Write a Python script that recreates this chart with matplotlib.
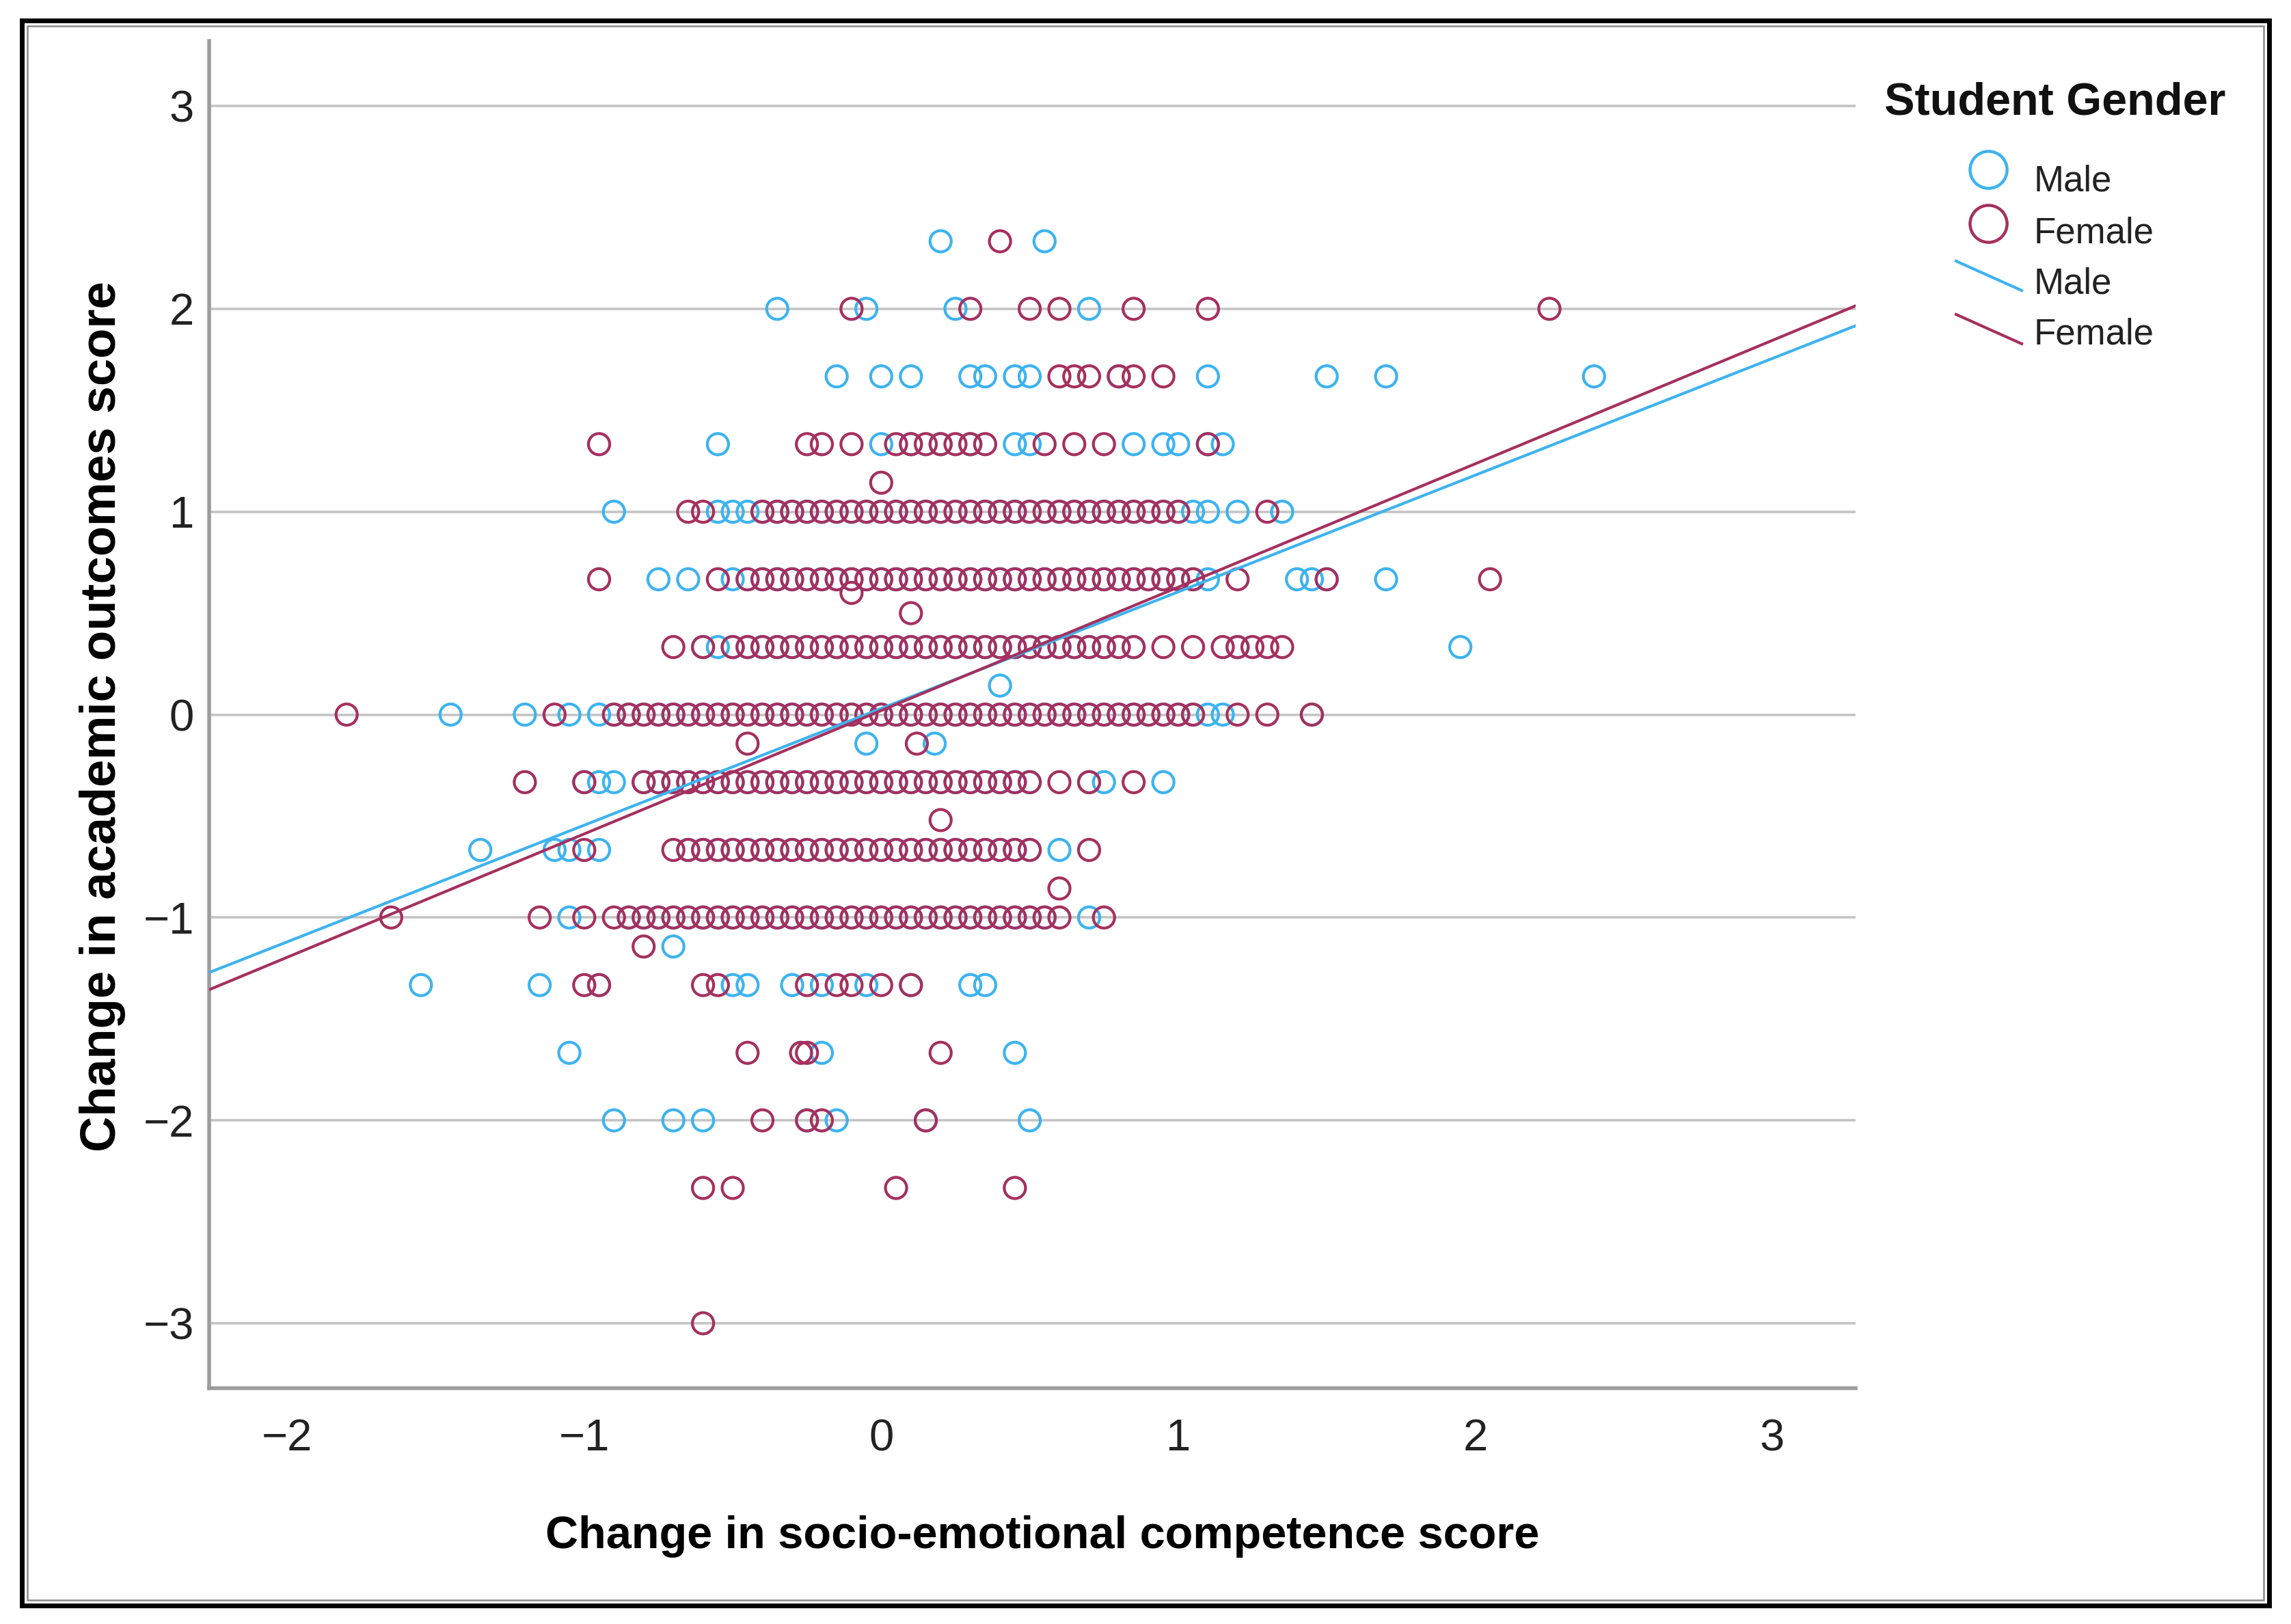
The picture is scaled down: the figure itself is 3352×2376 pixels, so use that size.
import matplotlib
matplotlib.use("Agg")
import matplotlib.pyplot as plt
from matplotlib.lines import Line2D
from matplotlib.patches import Rectangle
import numpy as np

plt.rcParams['font.family'] = ['Liberation Sans', 'DejaVu Sans']

# ---------------- data ----------------
# x = change in socio-emotional competence, grouped by y level (change in academic outcomes)
male_y233 = [0.2, 0.55]
fem_y233 = [0.4]

male_y200 = [-0.35, -0.05, 0.25, 0.7]
fem_y200 = [-0.1, 0.3, 0.5, 0.6, 0.85, 1.1, 2.25]

male_y167 = [-0.15, 0.0, 0.1, 0.3, 0.35, 0.45, 0.5, 0.8, 1.1, 1.5, 1.7, 2.4]
fem_y167 = [0.6, 0.65, 0.7, 0.8, 0.85, 0.95]

male_y133 = [-0.55, 0.0, 0.1, 0.2, 0.3, 0.45, 0.5, 0.85, 0.95, 1.0, 1.1, 1.15]
fem_y133 = [-0.95, -0.25, -0.2, -0.1, 0.05, 0.1, 0.15, 0.2, 0.25, 0.3, 0.35,
            0.55, 0.65, 0.75, 1.1]

fem_y114 = [0.0]

male_y100 = [-0.9, -0.55, -0.5, -0.45, -0.4, -0.35, -0.3, -0.25, -0.2, -0.15, -0.1,
             -0.05, 0.0, 0.05, 0.1, 0.15, 0.2, 0.25, 0.3, 0.35, 0.4, 0.45, 0.5, 0.55,
             0.6, 0.65, 0.7, 0.75, 0.8, 0.85, 0.9, 0.95, 1.0, 1.05, 1.1, 1.2, 1.35]
fem_y100 = [-0.65, -0.6, -0.4, -0.35, -0.3, -0.25, -0.2, -0.15, -0.1, -0.05, 0.0,
            0.05, 0.1, 0.15, 0.2, 0.25, 0.3, 0.35, 0.4, 0.45, 0.5, 0.55, 0.6, 0.65,
            0.7, 0.75, 0.8, 0.85, 0.9, 0.95, 1.0, 1.3]

male_y067 = [-0.75, -0.65, -0.5, -0.45, -0.4, -0.35, -0.3, -0.25, -0.2, -0.15, -0.1,
             -0.05, 0.0, 0.05, 0.1, 0.15, 0.2, 0.25, 0.3, 0.35, 0.4, 0.45, 0.5, 0.55,
             0.6, 0.65, 0.7, 0.75, 0.8, 0.85, 0.9, 0.95, 1.0, 1.05, 1.1, 1.4, 1.45,
             1.5, 1.7]
fem_y067 = [-0.95, -0.55, -0.45, -0.4, -0.35, -0.3, -0.25, -0.2, -0.15, -0.1, -0.05,
            0.0, 0.05, 0.1, 0.15, 0.2, 0.25, 0.3, 0.35, 0.4, 0.45, 0.5, 0.55, 0.6,
            0.65, 0.7, 0.75, 0.8, 0.85, 0.9, 0.95, 1.0, 1.05, 1.2, 1.5, 2.05]

fem_y060 = [-0.1]
fem_y050 = [0.1]

male_y033 = [-0.6, -0.55, -0.5, -0.45, -0.4, -0.35, -0.3, -0.25, -0.2, -0.15, -0.1,
             -0.05, 0.0, 0.05, 0.1, 0.15, 0.2, 0.25, 0.3, 0.35, 0.4, 0.45, 0.5, 0.55,
             0.6, 0.65, 0.7, 0.75, 0.85, 1.2, 1.95]
fem_y033 = [-0.7, -0.6, -0.5, -0.45, -0.4, -0.35, -0.3, -0.25, -0.2, -0.15, -0.1,
            -0.05, 0.0, 0.05, 0.1, 0.15, 0.2, 0.25, 0.3, 0.35, 0.4, 0.45, 0.5, 0.55,
            0.6, 0.65, 0.7, 0.75, 0.8, 0.85, 0.95, 1.05, 1.15, 1.2, 1.25, 1.3, 1.35]

male_y014 = [0.4]

male_y000 = [-1.45, -1.2, -1.05, -0.95, -0.9, -0.85, -0.8, -0.75, -0.7, -0.65, -0.6,
             -0.55, -0.5, -0.45, -0.4, -0.35, -0.3, -0.25, -0.2, -0.15, -0.1, -0.05,
             0.0, 0.05, 0.1, 0.15, 0.2, 0.25, 0.3, 0.35, 0.4, 0.45, 0.5, 0.55, 0.6,
             0.65, 0.7, 0.75, 0.8, 0.85, 0.9, 0.95, 1.0, 1.05, 1.1, 1.15, 1.45]
fem_y000 = [-1.8, -1.1, -0.9, -0.85, -0.8, -0.75, -0.7, -0.65, -0.6, -0.55, -0.5,
            -0.45, -0.4, -0.35, -0.3, -0.25, -0.2, -0.15, -0.1, -0.05, 0.0, 0.05,
            0.1, 0.15, 0.2, 0.25, 0.3, 0.35, 0.4, 0.45, 0.5, 0.55, 0.6, 0.65, 0.7,
            0.75, 0.8, 0.85, 0.9, 0.95, 1.0, 1.05, 1.2, 1.3, 1.45]

male_ym014 = [-0.05, 0.18]
fem_ym014 = [-0.45, 0.12]

male_ym033 = [-1.0, -0.95, -0.9, -0.8, -0.75, -0.7, -0.65, -0.6, -0.55, -0.5, -0.45,
              -0.4, -0.35, -0.3, -0.25, -0.2, -0.15, -0.1, -0.05, 0.0, 0.05, 0.1,
              0.15, 0.2, 0.25, 0.3, 0.35, 0.4, 0.45, 0.5, 0.7, 0.75, 0.95]
fem_ym033 = [-1.2, -1.0, -0.8, -0.75, -0.7, -0.65, -0.6, -0.55, -0.5, -0.45, -0.4,
             -0.35, -0.3, -0.25, -0.2, -0.15, -0.1, -0.05, 0.0, 0.05, 0.1, 0.15, 0.2,
             0.25, 0.3, 0.35, 0.4, 0.45, 0.5, 0.6, 0.7, 0.85]

fem_ym052 = [0.2]

male_ym067 = [-1.35, -1.1, -1.05, -0.95, -0.65, -0.6, -0.55, -0.5, -0.45, -0.4,
              -0.35, -0.3, -0.25, -0.2, -0.15, -0.1, -0.05, 0.0, 0.05, 0.1, 0.15,
              0.2, 0.25, 0.3, 0.35, 0.4, 0.45, 0.5, 0.6]
fem_ym067 = [-1.0, -0.7, -0.65, -0.6, -0.55, -0.5, -0.45, -0.4, -0.35, -0.3, -0.25,
             -0.2, -0.15, -0.1, -0.05, 0.0, 0.05, 0.1, 0.15, 0.2, 0.25, 0.3, 0.35,
             0.4, 0.45, 0.5, 0.7]

fem_ym086 = [0.6]

male_ym100 = [-1.05, -0.85, -0.8, -0.75, -0.7, -0.65, -0.6, -0.55, -0.5, -0.45, -0.4,
              -0.35, -0.3, -0.25, -0.2, -0.15, -0.1, -0.05, 0.0, 0.05, 0.1, 0.15,
              0.2, 0.25, 0.3, 0.35, 0.4, 0.45, 0.5, 0.55, 0.7]
fem_ym100 = [-1.65, -1.15, -1.0, -0.9, -0.85, -0.8, -0.75, -0.7, -0.65, -0.6, -0.55,
             -0.5, -0.45, -0.4, -0.35, -0.3, -0.25, -0.2, -0.15, -0.1, -0.05, 0.0,
             0.05, 0.1, 0.15, 0.2, 0.25, 0.3, 0.35, 0.4, 0.45, 0.5, 0.55, 0.6, 0.75]

male_ym114 = [-0.7]
fem_ym114 = [-0.8]

male_ym133 = [-1.55, -1.15, -0.95, -0.5, -0.45, -0.3, -0.2, -0.05, 0.1, 0.3, 0.35]
fem_ym133 = [-1.0, -0.95, -0.6, -0.55, -0.25, -0.15, -0.1, 0.0, 0.1]

male_ym167 = [-1.05, -0.2, 0.45]
fem_ym167 = [-0.45, -0.27, -0.25, 0.2]

male_ym200 = [-0.9, -0.7, -0.6, -0.25, -0.15, 0.15, 0.5]
fem_ym200 = [-0.4, -0.25, -0.2, 0.15]

fem_ym233 = [-0.6, -0.5, 0.05, 0.45]
fem_ym300 = [-0.6]

male_levels = [2.333, 2.0, 1.667, 1.333, 1.0, 0.667, 0.333, 0.143, 0.0, -0.143,
               -0.333, -0.667, -1.0, -1.143, -1.333, -1.667, -2.0]
male_groups = [male_y233, male_y200, male_y167, male_y133, male_y100, male_y067,
               male_y033, male_y014, male_y000, male_ym014, male_ym033, male_ym067,
               male_ym100, male_ym114, male_ym133, male_ym167, male_ym200]
fem_levels = [2.333, 2.0, 1.667, 1.333, 1.143, 1.0, 0.667, 0.6, 0.5, 0.333, 0.0,
              -0.143, -0.333, -0.52, -0.667, -0.857, -1.0, -1.143, -1.333, -1.667,
              -2.0, -2.333, -3.0]
fem_groups = [fem_y233, fem_y200, fem_y167, fem_y133, fem_y114, fem_y100, fem_y067,
              fem_y060, fem_y050, fem_y033, fem_y000, fem_ym014, fem_ym033, fem_ym052,
              fem_ym067, fem_ym086, fem_ym100, fem_ym114, fem_ym133, fem_ym167,
              fem_ym200, fem_ym233, fem_ym300]

# fit lines (slope, intercept)
male_fit = (0.575, 0.03)
fem_fit = (0.608, 0.02)

x_ticks = [-2, -1, 0, 1, 2, 3]
y_ticks = [-3, -2, -1, 0, 1, 2, 3]

series_names = ["Male", "Female"]
c_male = "#3DB3EF"
c_fem = "#A5305F"

# ---------------- figure ----------------
W, H = 3352, 2376
fig = plt.figure(figsize=(W / 100, H / 100), dpi=100)
fig.patch.set_facecolor("white")

def fx(px):
    return px / W

def fy(py):
    return 1 - py / H

ax_l, ax_r, ax_t, ax_b = 306, 2715, 60, 2031
ax = fig.add_axes([fx(ax_l), fy(ax_b), fx(ax_r) - fx(ax_l), fy(ax_t) - fy(ax_b)])
ax.set_xlim(-2.263, 3.281)
ax.set_ylim(-3.32, 3.32)

ax.set_yticks(y_ticks)
ax.set_xticks(x_ticks)
ax.yaxis.grid(True, color="#C4C4C4", linewidth=2.6, zorder=0)
ax.xaxis.grid(False)
ax.set_axisbelow(True)

for s in ["top", "right"]:
    ax.spines[s].set_visible(False)
for s in ["left", "bottom"]:
    ax.spines[s].set_color("#9C9C9C")
    ax.spines[s].set_linewidth(4)

ax.tick_params(axis="both", length=0, labelsize=47, labelcolor="#222222")
ax.tick_params(axis="y", pad=16)
ax.tick_params(axis="x", pad=32)

mx = np.concatenate([np.asarray(g, float) for g in male_groups])
my = np.concatenate([np.full(len(g), lv) for g, lv in zip(male_groups, male_levels)])
fxv = np.concatenate([np.asarray(g, float) for g in fem_groups])
fyv = np.concatenate([np.full(len(g), lv) for g, lv in zip(fem_groups, fem_levels)])

ax.scatter(mx, my, s=500, facecolors="none", edgecolors=c_male, linewidths=3.0, zorder=3)
ax.scatter(fxv, fyv, s=500, facecolors="none", edgecolors=c_fem, linewidths=3.0, zorder=3)

ax.axline((0, male_fit[1]), slope=male_fit[0], color=c_male, linewidth=3.0, zorder=4)
ax.axline((0, fem_fit[1]), slope=fem_fit[0], color=c_fem, linewidth=3.0, zorder=4)

ax.set_xlabel("Change in socio-emotional competence score", fontsize=48,
              fontweight="bold", va="baseline")
ax.xaxis.set_label_coords(0.506, -0.1187)
ax.set_ylabel("Change in academic outcomes score", fontsize=52,
              fontweight="bold", va="center")
ax.yaxis.set_label_coords(-0.0648, 0.4987)

# ---------------- legend (manual, SPSS style) ----------------
fig.text(fx(2757), fy(167), "Student Gender", fontsize=48, fontweight="bold",
         ha="left", va="baseline", color="#111111")
fig.add_artist(Line2D([fx(2909)], [fy(248)], marker="o", markersize=39,
                      markerfacecolor="none", markeredgecolor=c_male,
                      markeredgewidth=3.2, transform=fig.transFigure))
fig.add_artist(Line2D([fx(2909)], [fy(327)], marker="o", markersize=39,
                      markerfacecolor="none", markeredgecolor=c_fem,
                      markeredgewidth=3.2, transform=fig.transFigure))
fig.text(fx(2976), fy(279), series_names[0], fontsize=38, ha="left", va="baseline", color="#222222")
fig.text(fx(2976), fy(356), series_names[1], fontsize=38, ha="left", va="baseline", color="#222222")
fig.add_artist(Line2D([fx(2862), fx(2958)], [fy(382), fy(425)], color=c_male,
                      linewidth=3.0, transform=fig.transFigure))
fig.add_artist(Line2D([fx(2862), fx(2958)], [fy(460), fy(503)], color=c_fem,
                      linewidth=3.0, transform=fig.transFigure))
fig.text(fx(2976), fy(429), series_names[0], fontsize=38, ha="left", va="baseline", color="#222222")
fig.text(fx(2976), fy(504), series_names[1], fontsize=38, ha="left", va="baseline", color="#222222")

# ---------------- outer frame ----------------
fig.add_artist(Rectangle((fx(32), fy(2349)), fx(3320) - fx(32), fy(30) - fy(2349),
                         fill=False, edgecolor="black", linewidth=5,
                         transform=fig.transFigure))
fig.add_artist(Rectangle((fx(40), fy(2341)), fx(3312) - fx(40), fy(38) - fy(2341),
                         fill=False, edgecolor="#8A8A8A", linewidth=1.8,
                         transform=fig.transFigure))

fig.savefig("out.png", dpi=100, facecolor="white")
